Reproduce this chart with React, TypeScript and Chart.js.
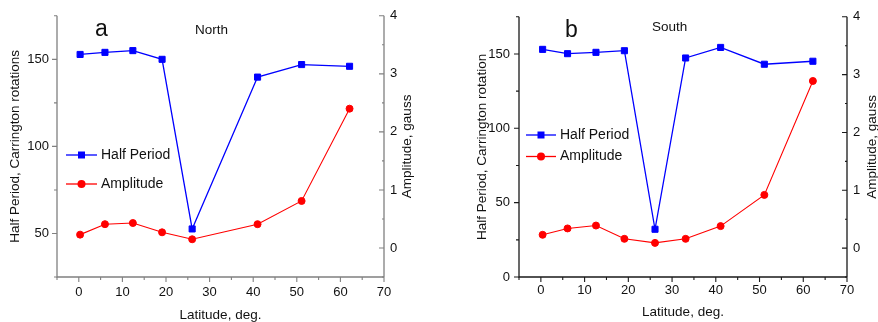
import { useEffect, useRef } from 'react';
import { Chart, registerables } from 'chart.js';

Chart.register(...registerables);

// ---- data ----
const northLatitude = [0.3, 6.0, 12.4, 19.1, 26.0, 41.0, 51.1, 62.1];
const northHalfPeriod = [152.8, 154.0, 155.0, 150.0, 52.6, 139.8, 147.0, 146.0];
const northAmplitude = [0.23, 0.41, 0.43, 0.27, 0.15, 0.41, 0.81, 2.4];

const southLatitude = [0.4, 6.1, 12.6, 19.1, 26.1, 33.1, 41.1, 51.1, 62.2];
const southHalfPeriod = [153.1, 150.2, 151.1, 152.2, 32.1, 147.3, 154.4, 143.1, 145.1];
const southAmplitude = [0.23, 0.34, 0.39, 0.16, 0.09, 0.16, 0.38, 0.92, 2.89];

const latitudeTicks = [0, 10, 20, 30, 40, 50, 60, 70];
const northPeriodTicks = [50, 100, 150];
const southPeriodTicks = [0, 50, 100, 150];
const amplitudeTicks = [0, 1, 2, 3, 4];

const FONT = "'Liberation Sans', Arial, Helvetica, sans-serif";

type PanelCfg = {
  width: number;
  leftW: number;
  rightW: number;
  axisColor: string;
  lat: number[];
  period: number[];
  amp: number[];
  periodMin: number;
  periodTicks: number[];
  leftTitle: string;
  leftTitleX: number;
  rightTitleX: number;
  xTitleY: number;
  letter: string;
  letterX: number;
  letterY: number;
  region: string;
  regionX: number;
  regionY: number;
  legendY: [number, number];
  legendLine: [number, number];
  legendText: number;
  leftPad: number;
  rightPad: number;
  xPad: number;
};

function Panel({ cfg }: { cfg: PanelCfg }) {
  const ref = useRef<HTMLCanvasElement | null>(null);
  useEffect(() => {
    const canvas = ref.current;
    if (!canvas) return;
    const c = cfg;
    const decor = {
      id: 'decor',
      afterDraw(chart: any) {
        const ctx = chart.ctx as CanvasRenderingContext2D;
        const a = chart.chartArea;
        const xs = chart.scales.x;
        const yl = chart.scales.y;
        const yr = chart.scales.y1;
        ctx.save();
        ctx.strokeStyle = c.axisColor;
        ctx.lineWidth = 1.3;
        ctx.beginPath();
        ctx.moveTo(a.left, a.top);
        ctx.lineTo(a.left, a.bottom);
        ctx.lineTo(a.right, a.bottom);
        ctx.moveTo(a.right, a.bottom);
        ctx.lineTo(a.right, a.top);
        ctx.stroke();
        ctx.lineWidth = 1.1;
        ctx.beginPath();
        // x ticks
        for (let v = -5; v <= 70; v += 5) {
          const px = xs.getPixelForValue(v);
          const len = v % 10 === 0 ? 5 : 3;
          ctx.moveTo(px, a.bottom);
          ctx.lineTo(px, a.bottom + len);
        }
        // left ticks
        for (let v = c.periodMin; v <= 175; v += 25) {
          const py = yl.getPixelForValue(v);
          const len = v % 50 === 0 ? 5 : 3;
          ctx.moveTo(a.left, py);
          ctx.lineTo(a.left - len, py);
        }
        // right ticks (inward)
        for (let v = -0.5; v <= 4; v += 0.5) {
          const py = yr.getPixelForValue(v);
          const len = Math.abs(v - Math.round(v)) < 1e-6 ? 5 : 2;
          ctx.moveTo(a.right, py);
          ctx.lineTo(a.right - len, py);
        }
        ctx.stroke();

        // titles
        ctx.fillStyle = '#111';
        ctx.font = `13.5px ${FONT}`;
        ctx.textAlign = 'center';
        ctx.textBaseline = 'middle';
        const cy = (a.top + a.bottom) / 2;
        const cx = (a.left + a.right) / 2;
        ctx.fillText('Latitude, deg.', cx, c.xTitleY);
        ctx.save();
        ctx.translate(c.leftTitleX, cy);
        ctx.rotate(-Math.PI / 2);
        ctx.fillText(c.leftTitle, 0, 0);
        ctx.restore();
        ctx.save();
        ctx.translate(c.rightTitleX, cy);
        ctx.rotate(-Math.PI / 2);
        ctx.fillText('Amplitude, gauss', 0, 0);
        ctx.restore();

        // panel letter and region
        ctx.textAlign = 'left';
        ctx.textBaseline = 'alphabetic';
        ctx.font = `23px ${FONT}`;
        ctx.fillText(c.letter, c.letterX, c.letterY);
        ctx.font = `13.5px ${FONT}`;
        ctx.fillText(c.region, c.regionX, c.regionY);

        // legend
        const items = [
          { label: 'Half Period', color: '#0000ff', shape: 'rect' },
          { label: 'Amplitude', color: '#ff0000', shape: 'circle' },
        ];
        items.forEach((it, i) => {
          const y = c.legendY[i];
          const [x0, x1] = c.legendLine;
          ctx.strokeStyle = it.color;
          ctx.fillStyle = it.color;
          ctx.lineWidth = 1.3;
          ctx.beginPath();
          ctx.moveTo(x0, y);
          ctx.lineTo(x1, y);
          ctx.stroke();
          const mx = (x0 + x1) / 2;
          ctx.beginPath();
          if (it.shape === 'rect') ctx.rect(mx - 3.5, y - 3.5, 7, 7);
          else ctx.arc(mx, y, 4, 0, Math.PI * 2);
          ctx.fill();
          ctx.fillStyle = '#111';
          ctx.font = `14px ${FONT}`;
          ctx.textBaseline = 'middle';
          ctx.fillText(it.label, c.legendText, y);
        });
        ctx.restore();
      },
    };

    const tickFont = { family: FONT, size: 13 };
    const chart = new Chart(canvas, {
      type: 'line',
      data: {
        datasets: [
          {
            label: 'Half Period',
            data: c.lat.map((x, i) => ({ x, y: c.period[i] })),
            yAxisID: 'y',
            borderColor: '#0000ff',
            backgroundColor: '#0000ff',
            borderWidth: 1.3,
            pointStyle: 'rect',
            pointRadius: 4.3,
            pointBorderWidth: 1,
            tension: 0,
          },
          {
            label: 'Amplitude',
            data: c.lat.map((x, i) => ({ x, y: c.amp[i] })),
            yAxisID: 'y1',
            borderColor: '#ff0000',
            backgroundColor: '#ff0000',
            borderWidth: 1.1,
            pointStyle: 'circle',
            pointRadius: 3.5,
            pointBorderWidth: 1,
            tension: 0,
          },
        ],
      },
      options: {
        responsive: false,
        animation: false,
        events: [],
        layout: { padding: { top: 13, left: 0, right: 0, bottom: 0 } },
        plugins: { legend: { display: false }, tooltip: { enabled: false }, title: { display: false } },
        scales: {
          x: {
            type: 'linear',
            position: 'bottom',
            min: -5,
            max: 70,
            afterBuildTicks: (s: any) => {
              s.ticks = latitudeTicks.map((v) => ({ value: v }));
            },
            afterFit: (s: any) => {
              s.height = 45;
            },
            grid: { display: false, drawTicks: false },
            border: { display: false },
            ticks: { font: tickFont, color: '#111', padding: c.xPad, maxRotation: 0, autoSkip: false },
          },
          y: {
            type: 'linear',
            position: 'left',
            min: c.periodMin,
            max: 175,
            afterBuildTicks: (s: any) => {
              s.ticks = c.periodTicks.map((v) => ({ value: v }));
            },
            afterFit: (s: any) => {
              s.width = c.leftW;
            },
            grid: { display: false, drawTicks: false },
            border: { display: false },
            ticks: { font: tickFont, color: '#111', padding: c.leftPad },
          },
          y1: {
            type: 'linear',
            position: 'right',
            min: -0.5,
            max: 4,
            afterBuildTicks: (s: any) => {
              s.ticks = amplitudeTicks.map((v) => ({ value: v }));
            },
            afterFit: (s: any) => {
              s.width = c.rightW;
            },
            grid: { display: false, drawTicks: false },
            border: { display: false },
            ticks: { font: tickFont, color: '#111', padding: c.rightPad },
          },
        },
      },
      plugins: [decor],
    } as any);
    return () => chart.destroy();
  }, [cfg]);
  return <canvas ref={ref} width={cfg.width} height={322} style={{ display: 'block' }} />;
}

const north: PanelCfg = {
  width: 440,
  leftW: 57,
  rightW: 56,
  axisColor: '#808080',
  lat: northLatitude,
  period: northHalfPeriod,
  amp: northAmplitude,
  periodMin: 25,
  periodTicks: northPeriodTicks,
  leftTitle: 'Half Period, Carrington rotations',
  leftTitleX: 15,
  rightTitleX: 407,
  xTitleY: 315,
  letter: 'a',
  letterX: 95,
  letterY: 36,
  region: 'North',
  regionX: 195,
  regionY: 34,
  legendY: [155, 184],
  legendLine: [66, 97],
  legendText: 101,
  leftPad: 8,
  rightPad: 6,
  xPad: 8,
};

const south: PanelCfg = {
  width: 438,
  leftW: 79,
  rightW: 31,
  axisColor: '#1a1a1a',
  lat: southLatitude,
  period: southHalfPeriod,
  amp: southAmplitude,
  periodMin: 0,
  periodTicks: southPeriodTicks,
  leftTitle: 'Half Period, Carrington rotation',
  leftTitleX: 42,
  rightTitleX: 432,
  xTitleY: 312,
  letter: 'b',
  letterX: 125,
  letterY: 36.5,
  region: 'South',
  regionX: 212,
  regionY: 30.5,
  legendY: [135, 156.5],
  legendLine: [86, 116],
  legendText: 120,
  leftPad: 9,
  rightPad: 6,
  xPad: 6,
};

export default function App() {
  return (
    <div style={{ position: 'absolute', left: 0, top: 0, width: 878, height: 322, display: 'flex', background: '#fff' }}>
      <Panel cfg={north} />
      <Panel cfg={south} />
    </div>
  );
}
